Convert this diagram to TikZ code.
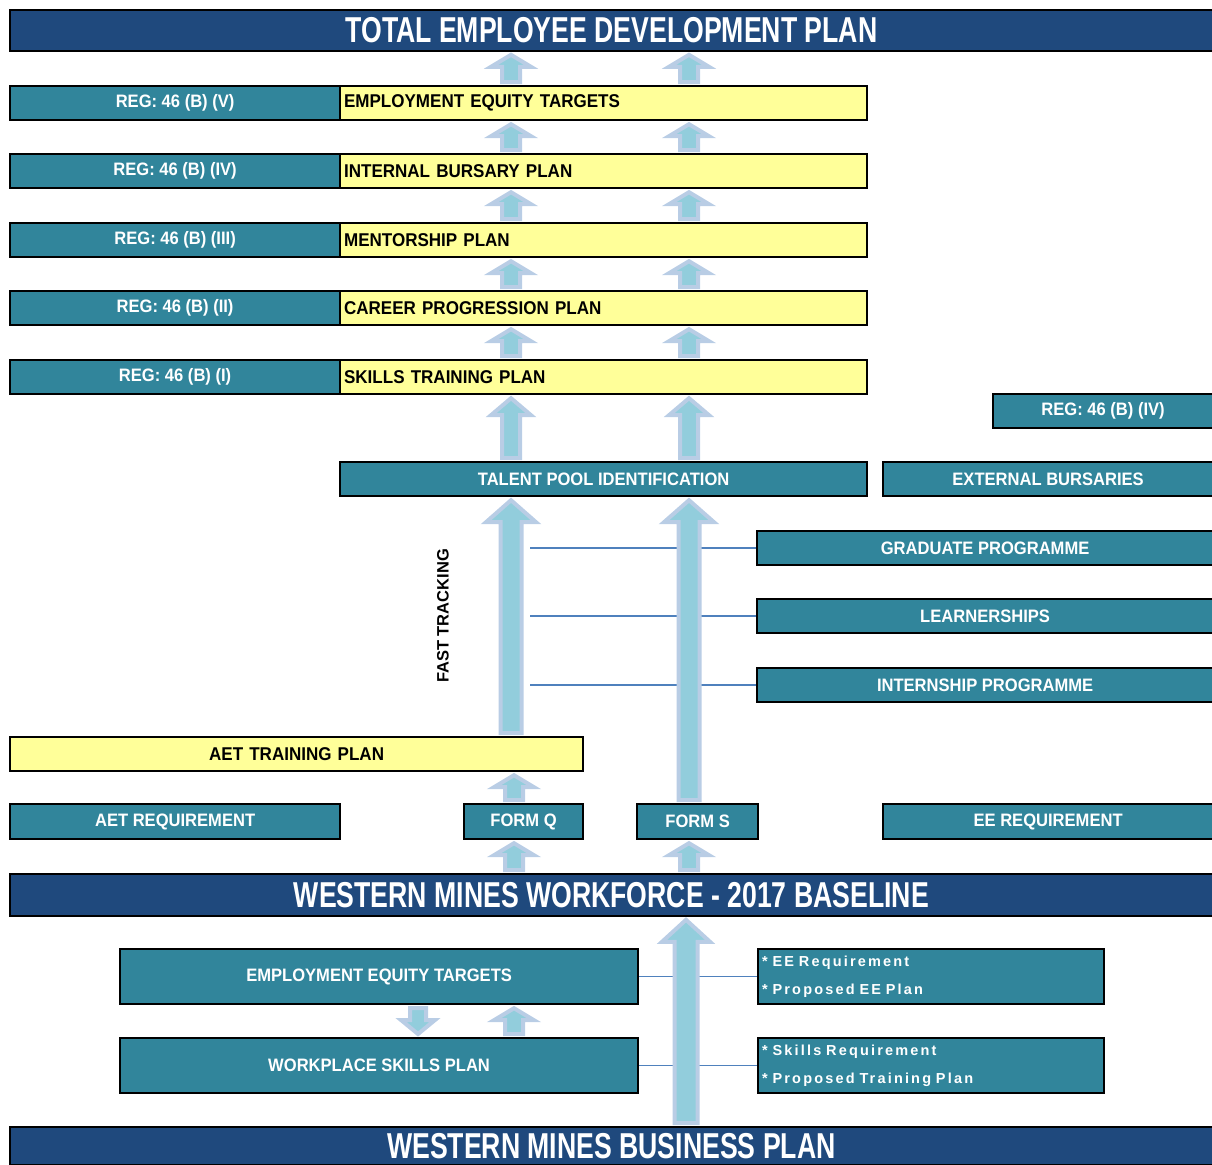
\documentclass[tikz,border=0pt]{standalone}
\usepackage{fontspec}
\setmainfont{Liberation Sans}
\newfontfamily\barfont[FakeStretch=0.74]{Liberation Sans}
\newfontfamily\boxfont[FakeStretch=0.92]{Liberation Sans}
\newfontfamily\notefont[LetterSpace=15]{Liberation Sans}
\usetikzlibrary{calc}

\definecolor{navyfill}{RGB}{31,73,125}
\definecolor{tealfill}{RGB}{49,133,155}
\definecolor{yellowfill}{RGB}{255,255,153}
\definecolor{arrowedge}{RGB}{185,205,229}
\definecolor{arrowfill}{RGB}{146,205,220}
\definecolor{linkblue}{RGB}{79,129,189}

\tikzset{
  bar/.style={draw=black, line width=1.8pt, fill=navyfill, text=white, anchor=north west,
    inner sep=0pt, font=\barfont\bfseries\fontsize{36}{40}\selectfont},
  tealbox/.style={draw=black, line width=2.2pt, fill=tealfill, text=white, anchor=north west,
    inner sep=0pt, font=\boxfont\bfseries\fontsize{18}{20}\selectfont},
  yelbox/.style={draw=black, line width=2.2pt, fill=yellowfill, text=black, anchor=north west,
    inner xsep=4pt, inner ysep=0pt, align=left, minimum height=34pt,
    font=\boxfont\bfseries\fontsize{18.5}{20}\selectfont},
  notebox/.style={tealbox, inner xsep=4pt, align=left, text width=338pt, minimum height=55pt,
    font=\notefont\bfseries\fontsize{14.5}{28}\selectfont},
  arrowbody/.style={draw=arrowedge, fill=arrowfill, line width=4pt, line join=miter},
  link/.style={draw=linkblue, line width=1.5pt}
}

% tail, tip, shaft half width, head half width, head length
\newcommand{\fatarrow}[5]{%
  \coordinate (fa-t) at ($(#1)!3pt!(#2)$);
  \coordinate (fa-h) at ($(#2)!3pt!(#1)$);
  \coordinate (fa-b) at ($(fa-h)!#5!(fa-t)$);
  \filldraw[arrowbody] ($(fa-t)!#3!90:(fa-h)$) -- ($(fa-b)!#3!90:(fa-h)$)
    -- ($(fa-b)!#4!90:(fa-h)$) -- (fa-h) -- ($(fa-b)!#4!-90:(fa-h)$)
    -- ($(fa-b)!#3!-90:(fa-h)$) -- ($(fa-t)!#3!-90:(fa-h)$) -- cycle;
}

\begin{document}
\begin{tikzpicture}[x=1pt, y=-1pt]
    \useasboundingbox (0,0) rectangle (1212,1164);

    \coordinate (colL) at (511,0);
    \coordinate (colR) at (689,0);
    \coordinate (colQ) at (514,0);
    \coordinate (colB) at (686,0);
    \coordinate (colD) at (418,0);
    \coordinate (linkL) at (530,0);

    % Plan rows
    \node[bar, minimum width=1203, minimum height=41] (title) at (9,9) {TOTAL EMPLOYEE DEVELOPMENT PLAN};
    \node[tealbox, minimum width=330, minimum height=34] (regV) at (9,85) {REG: 46 (B) (V)};
    \node[yelbox, text width=519] (eet) at (339,85) {EMPLOYMENT EQUITY TARGETS};
    \node[tealbox, minimum width=330, minimum height=34] (regIV) at (9,153) {REG: 46 (B) (IV)};
    \node[yelbox, text width=519] (ibp) at (339,153) {INTERNAL BURSARY PLAN};
    \node[tealbox, minimum width=330, minimum height=34] (regIII) at (9,222) {REG: 46 (B) (III)};
    \node[yelbox, text width=519] (mp) at (339,222) {MENTORSHIP PLAN};
    \node[tealbox, minimum width=330, minimum height=34] (regII) at (9,290) {REG: 46 (B) (II)};
    \node[yelbox, text width=519] (cpp) at (339,290) {CAREER PROGRESSION PLAN};
    \node[tealbox, minimum width=330, minimum height=34] (regI) at (9,359) {REG: 46 (B) (I)};
    \node[yelbox, text width=519] (stp) at (339,359) {SKILLS TRAINING PLAN};

    % Talent pool
    \node[tealbox, minimum width=220, minimum height=34] (regIVb) at (992,393) {REG: 46 (B) (IV)};
    \node[tealbox, minimum width=527, minimum height=34] (tpi) at (339,461) {TALENT POOL IDENTIFICATION};
    \node[tealbox, minimum width=330, minimum height=34] (extbur) at (882,461) {EXTERNAL BURSARIES};
    \node[tealbox, minimum width=456, minimum height=34] (grad) at (756,530) {GRADUATE PROGRAMME};
    \node[tealbox, minimum width=456, minimum height=34] (learn) at (756,598) {LEARNERSHIPS};
    \node[tealbox, minimum width=456, minimum height=34] (intern) at (756,667) {INTERNSHIP PROGRAMME};
    \node[rotate=90, font=\bfseries\fontsize{16.5}{18}\selectfont] (fast) at (443,616) {FAST TRACKING};

    % Forms
    \node[yelbox, text width=565, align=center] (aet) at (9,736) {AET TRAINING PLAN};
    \node[tealbox, minimum width=330, minimum height=35] (aetreq) at (9,803) {AET REQUIREMENT};
    \node[tealbox, minimum width=119, minimum height=35] (formq) at (463,803) {FORM Q};
    \node[tealbox, minimum width=121, minimum height=35] (forms) at (636,803) {FORM S};
    \node[tealbox, minimum width=330, minimum height=35] (eereq) at (882,803) {EE REQUIREMENT};
    \node[bar, minimum width=1203, minimum height=42] (wmw) at (9,873) {WESTERN MINES WORKFORCE - 2017 BASELINE};

    % Baseline inputs
    \node[tealbox, minimum width=518, minimum height=55] (eetb) at (119,948) {EMPLOYMENT EQUITY TARGETS};
    \node[tealbox, minimum width=518, minimum height=55] (wsp) at (119,1037) {WORKPLACE SKILLS PLAN};
    \node[notebox] (eenote) at (757,948) {* EE Requirement\\{}* Proposed EE Plan};
    \node[notebox] (skillnote) at (757,1037) {* Skills Requirement\\{}* Proposed Training Plan};
    \node[bar, minimum width=1203, minimum height=38] (wmbp) at (9,1126) {WESTERN MINES BUSINESS PLAN};

    % Links
    \draw[link] (grad.west) -- (grad.west -| linkL);
    \draw[link] (learn.west) -- (learn.west -| linkL);
    \draw[link] (intern.west) -- (intern.west -| linkL);
    \draw[link] (eetb.east) -- (eenote.west);
    \draw[link] (wsp.east) -- (skillnote.west);

    % Arrows
    \foreach \lo/\hi in {eet/title, ibp/eet, mp/ibp, cpp/mp, stp/cpp}
      \foreach \c in {colL, colR}
        {\fatarrow{\lo.north -| \c}{\hi.south -| \c}{9pt}{20pt}{12pt}}
    \foreach \c in {colL, colR}
      {\fatarrow{tpi.north -| \c}{stp.south -| \c}{9pt}{20pt}{17pt}}
    \fatarrow{aet.north -| colL}{tpi.south -| colL}{10.5pt}{25pt}{22pt}
    \fatarrow{forms.north -| colR}{tpi.south -| colR}{10.5pt}{25pt}{22pt}
    \fatarrow{formq.north -| colQ}{aet.south -| colQ}{9pt}{20pt}{12pt}
    \fatarrow{wmw.north -| colQ}{formq.south -| colQ}{9pt}{20pt}{12pt}
    \fatarrow{wmw.north -| colR}{forms.south -| colR}{9pt}{20pt}{12pt}
    \fatarrow{wmbp.north -| colB}{wmw.south -| colB}{11.5pt}{24pt}{22pt}
    \fatarrow{eetb.south -| colD}{wsp.north -| colD}{8pt}{17pt}{14pt}
    \fatarrow{wsp.north -| colQ}{eetb.south -| colQ}{9pt}{20pt}{12pt}
  \end{tikzpicture}
\end{document}
